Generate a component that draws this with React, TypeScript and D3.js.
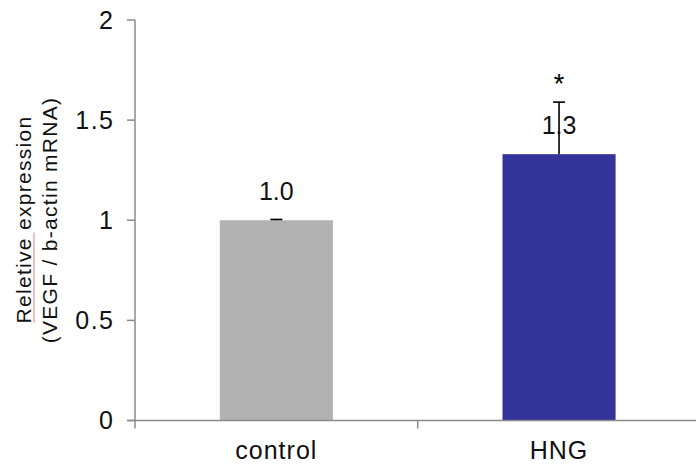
import React from "react";
import * as d3 from "d3";

const categories = ["control", "HNG"];
const values = [1.0, 1.33];
const errors = [0.004, 0.26];
const valueLabels = ["1.0", "1.3"];
const significance = ["", "*"];
const barColors = ["#b2b2b2", "#333399"];
const yTicks = [0, 0.5, 1, 1.5, 2];
const yTickLabels = ["0", "0.5", "1", "1.5", "2"];

const W = 696;
const H = 470;
const left = 135;
const bandW = 282.7;
const top = 20;
const bottom = 420.5;
const font = "'Liberation Sans', Arial, sans-serif";
const axisColor = "#8a8a8a";

export default function App() {
  const x = d3
    .scaleBand<string>()
    .domain(categories)
    .range([left, left + bandW * categories.length])
    .paddingInner(0)
    .paddingOuter(0);
  const y = d3.scaleLinear().domain([0, 2]).range([bottom, top]);
  const barW = x.bandwidth() * 0.4;
  const capW = 12;
  const center = (c: string) => (x(c) as number) + x.bandwidth() / 2;

  return (
    <svg width={W} height={H} style={{ position: "absolute", left: 0, top: 0, background: "#fff" }}>
      {/* bars */}
      {categories.map((c, i) => (
        <rect
          key={c}
          x={center(c) - barW / 2}
          y={y(values[i])}
          width={barW}
          height={y(0) - y(values[i])}
          fill={barColors[i]}
        />
      ))}
      {/* axes */}
      <line x1={left} x2={left} y1={y(2)} y2={y(0)} stroke={axisColor} strokeWidth={1.5} />
      <line x1={left - 8} x2={W} y1={y(0)} y2={y(0)} stroke={axisColor} strokeWidth={1.5} />
      {yTicks.map((t, i) => (
        <g key={t}>
          <line x1={left - 8} x2={left} y1={y(t)} y2={y(t)} stroke={axisColor} strokeWidth={1.5} />
          <text
            x={114.5}
            y={y(t)}
            dy="0.35em"
            textAnchor="end"
            fontFamily={font}
            fontSize={25}
            letterSpacing={1.5}
            fill="#111"
          >
            {yTickLabels[i]}
          </text>
        </g>
      ))}
      {[0, 1, 2].map((k) => {
        const xx = left + k * x.bandwidth();
        return <line key={k} x1={xx} x2={xx} y1={y(0)} y2={y(0) + 8} stroke={axisColor} strokeWidth={1.5} />;
      })}
      {categories.map((c) => (
        <text
          key={c}
          x={center(c)}
          y={459}
          textAnchor="middle"
          fontFamily={font}
          fontSize={25}
          letterSpacing={1}
          fill="#111"
        >
          {c}
        </text>
      ))}
      {/* error bars */}
      {categories.map((c, i) => {
        const cx = center(c);
        const yt = y(values[i] + errors[i]);
        return (
          <g key={c}>
            <line x1={cx} x2={cx} y1={y(values[i])} y2={yt} stroke="#000" strokeWidth={1.6} />
            <line x1={cx - capW / 2} x2={cx + capW / 2} y1={yt} y2={yt} stroke="#000" strokeWidth={1.6} />
          </g>
        );
      })}
      {/* value labels */}
      {categories.map((c, i) => (
        <text
          key={c}
          x={center(c)}
          y={y(values[i]) - 20.5}
          textAnchor="middle"
          fontFamily={font}
          fontSize={25}
          fill="#111"
        >
          {valueLabels[i]}
        </text>
      ))}
      {categories.map((c, i) =>
        significance[i] ? (
          <text
            key={c}
            x={center(c)}
            y={y(values[i] + errors[i]) - 9}
            textAnchor="middle"
            fontFamily={font}
            fontSize={27}
            fill="#000"
          >
            {significance[i]}
          </text>
        ) : null
      )}
      {/* y title */}
      <g transform="translate(31,219.5) rotate(-90)">
        <text x={0} y={0} textAnchor="middle" fontFamily={font} fontSize={21} letterSpacing={1.3} fill="#111">
          Reletive expression
        </text>
        <line x1={-103} x2={-13} y1={3} y2={3} stroke="#f29a9a" strokeWidth={1.3} />
      </g>
      <g transform="translate(56.5,220) rotate(-90)">
        <text x={0} y={0} textAnchor="middle" fontFamily={font} fontSize={21} letterSpacing={1.3} fill="#111">
          (VEGF / b-actin mRNA)
        </text>
      </g>
    </svg>
  );
}
